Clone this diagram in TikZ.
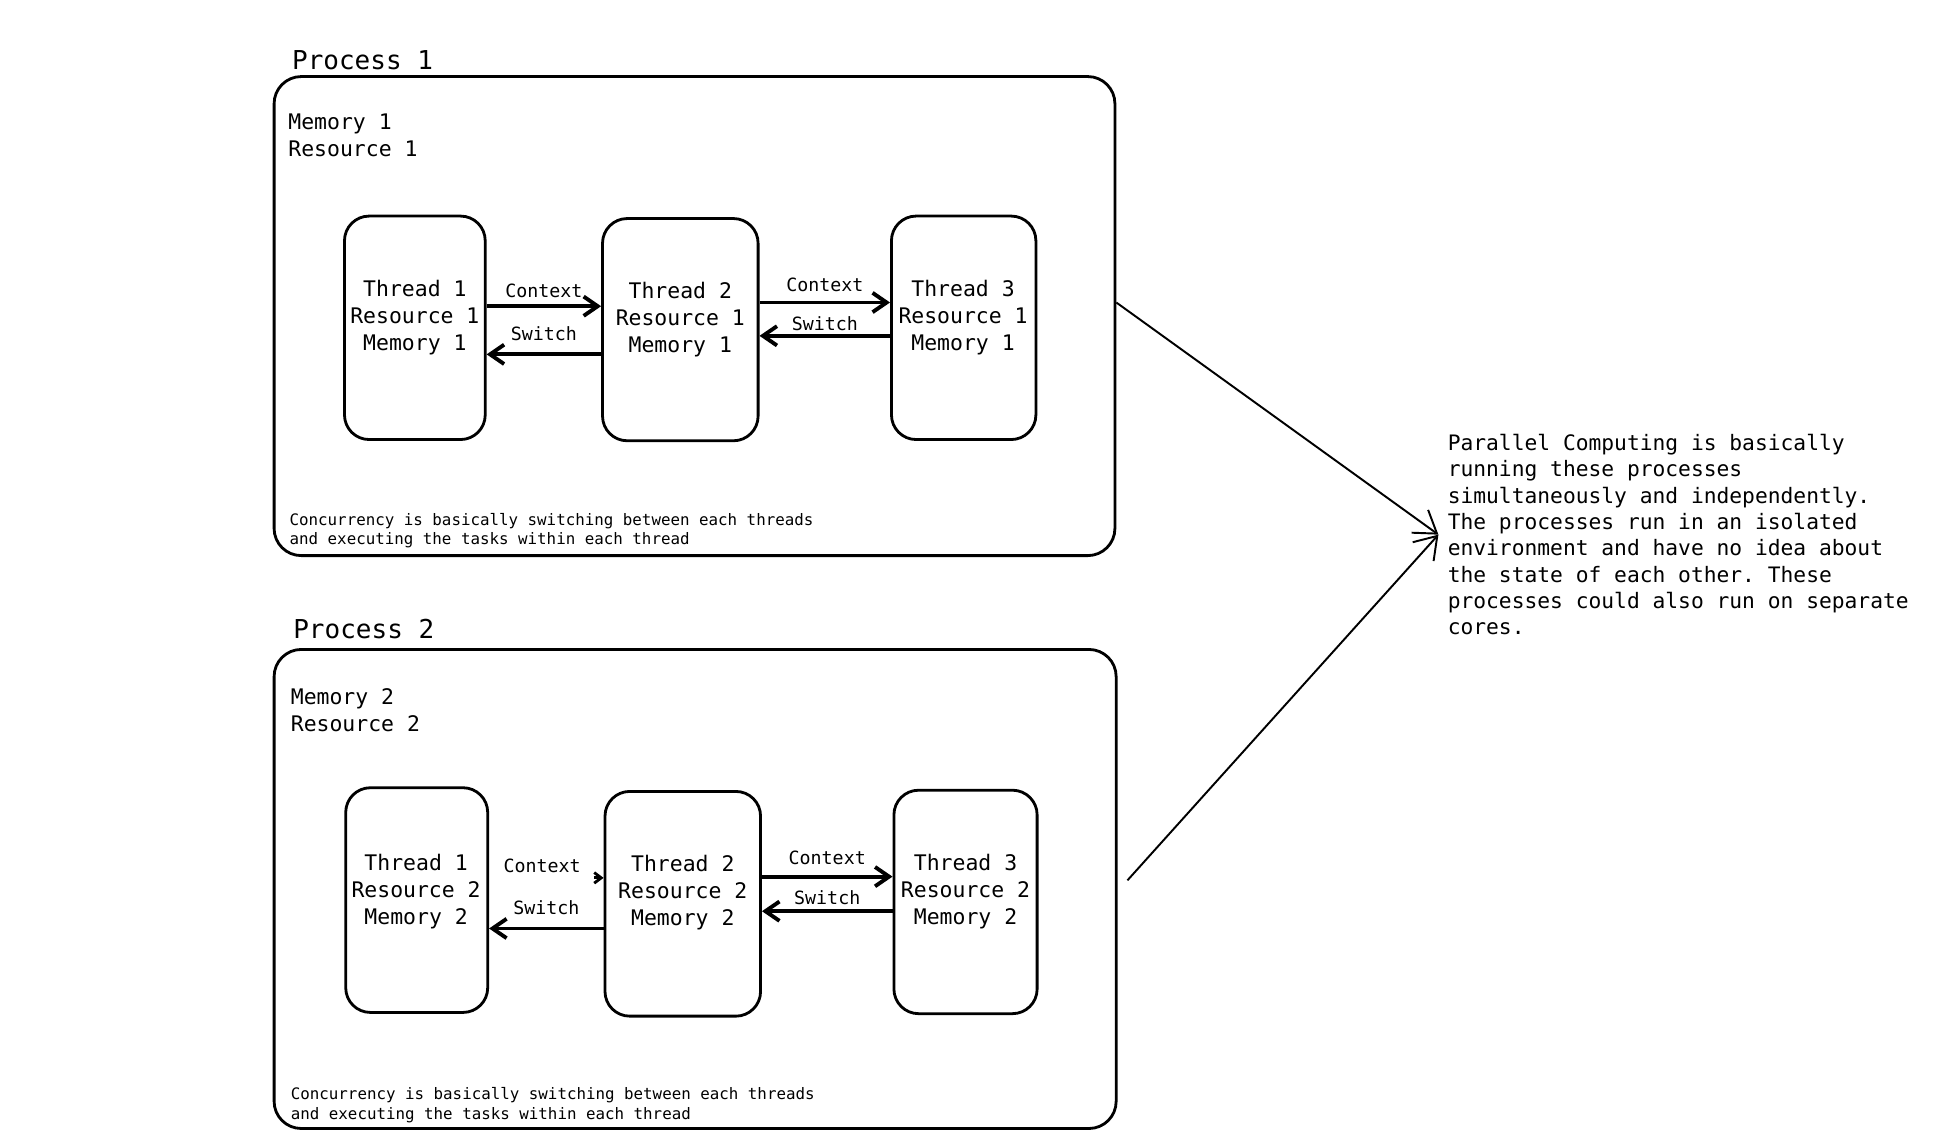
\documentclass[tikz,border=0pt]{standalone}
\usepackage{fontspec}
\setmainfont{DejaVu Sans Mono}
\frenchspacing
\usetikzlibrary{
    arrows.meta,
    positioning,
    calc
}
\newcommand{\px}{0.012347cm}
\tikzset{
    procbox/.style={draw, line width=0.8pt, rounded corners=22*\px, inner sep=0pt},
    thrbox/.style={draw, line width=0.8pt, rounded corners=20*\px, inner sep=0pt},
    thrtext/.style={align=center, inner sep=0pt, font=\fontsize{6.1}{7.7}\selectfont},
    proctitle/.style={anchor=base west, inner sep=0pt, font=\fontsize{7.4}{9}\selectfont},
    procinfo/.style={anchor=north west, align=left, inner sep=0pt, font=\fontsize{6.1}{7.7}\selectfont},
    concnote/.style={anchor=north west, align=left, inner sep=0pt, font=\fontsize{4.5}{5.6}\selectfont},
    flowlbl/.style={inner sep=1pt, font=\fontsize{5.2}{6}\selectfont},
    flow/.style={line width=1.1pt, -{Straight Barb[length=4pt,width=5.5pt]}},
    bigflow/.style={line width=0.55pt, -{Straight Barb[length=6pt,width=8pt]}}
}

\begin{document}
\begin{tikzpicture}[x=\px, y=-\px]
\useasboundingbox (0,0) rectangle (1568,926);

% === TOP: Process 1 ===
\begin{scope}
    \node[procbox, minimum width=681*\px, minimum height=388*\px] (p1) at (562.5,256) {};
    \node[proctitle] (p1title) at (236,56) {Process 1};
    \node[procinfo] (p1info) at (233,92) {Memory 1\\Resource 1};

    % threads
    \node[thrbox, minimum width=114*\px, minimum height=181*\px] (p1t1) at (336,265.5) {};
    \node[thrbox, minimum width=126*\px, minimum height=180*\px] (p1t2) at (551,267) {};
    \node[thrbox, minimum width=117*\px, minimum height=181*\px] (p1t3) at (780.5,265.5) {};
    \node[thrtext] (p1t1txt) at (336,257) {Thread 1\\Resource 1\\Memory 1};
    \node[thrtext] (p1t2txt) at (551,259) {Thread 2\\Resource 1\\Memory 1};
    \node[thrtext] (p1t3txt) at (780,257) {Thread 3\\Resource 1\\Memory 1};

    % context switches
    \draw[flow] (p1t1.east |- 0,248) -- (p1t2.west |- 0,248) node[midway, flowlbl, above=0.9pt] {Context};
    \draw[flow] (p1t2.west |- 0,287) -- (p1t1.east |- 0,287) node[midway, flowlbl, above=2.3pt] {Switch};
    \draw[flow] (p1t2.east |- 0,245) -- (p1t3.west |- 0,245) node[midway, flowlbl, above=1.6pt] {Context};
    \draw[flow] (p1t3.west |- 0,272) -- (p1t2.east |- 0,272) node[midway, flowlbl, above] {Switch};

    \node[concnote] (p1note) at (234,415) {Concurrency is basically switching between each threads\\and executing the tasks within each thread};
\end{scope}

% === BOTTOM: Process 2 ===
\begin{scope}
    \node[procbox, minimum width=682*\px, minimum height=388*\px] (p2) at (563,720) {};
    \node[proctitle] (p2title) at (237,517) {Process 2};
    \node[procinfo] (p2info) at (235,557) {Memory 2\\Resource 2};

    % threads
    \node[thrbox, minimum width=115*\px, minimum height=182*\px] (p2t1) at (337.5,729) {};
    \node[thrbox, minimum width=126*\px, minimum height=182*\px] (p2t2) at (553,732) {};
    \node[thrbox, minimum width=116*\px, minimum height=181*\px] (p2t3) at (782,730.5) {};
    \node[thrtext] (p2t1txt) at (337,722) {Thread 1\\Resource 2\\Memory 2};
    \node[thrtext] (p2t2txt) at (553,723) {Thread 2\\Resource 2\\Memory 2};
    \node[thrtext] (p2t3txt) at (782,722) {Thread 3\\Resource 2\\Memory 2};

    % context switches
    \coordinate (p2ctx) at (481,711);
    \node[flowlbl] (p2ctxlbl) at (439,701) {Context};
    \draw[line width=0.8pt, -{Straight Barb[length=2pt,width=3pt]}] (p2ctx) -- (p2ctx -| p2t2.west);
    \draw[flow] (p2t2.west |- 0,752) -- (p2t1.east |- 0,752) node[midway, flowlbl, above=2.3pt] {Switch};
    \draw[flow] (p2t2.east |- 0,710) -- (p2t3.west |- 0,710) node[midway, flowlbl, above=1.9pt] {Context};
    \draw[flow] (p2t3.west |- 0,738) -- (p2t2.east |- 0,738) node[midway, flowlbl, above=0.2pt] {Switch};

    \node[concnote] (p2note) at (235,880) {Concurrency is basically switching between each threads\\and executing the tasks within each thread};
\end{scope}

% === RIGHT: parallel note ===
\node[anchor=north west, align=left, inner sep=0pt, font=\fontsize{6.05}{7.5}\selectfont] (par) at (1172,351) {%
    Parallel Computing is basically\\
    running these processes\\
    simultaneously and independently.\\
    The processes run in an isolated\\
    environment and have no idea about\\
    the state of each other. These\\
    processes could also run on separate\\
    cores.};
\coordinate (parin) at ($(par.west)+(-7,0)$);

\draw[bigflow] (p1.east |- 0,245) -- (parin);
\draw[bigflow] ($(p2.east |- 0,713)+(8,0)$) -- (parin);

\end{tikzpicture}
\end{document}
